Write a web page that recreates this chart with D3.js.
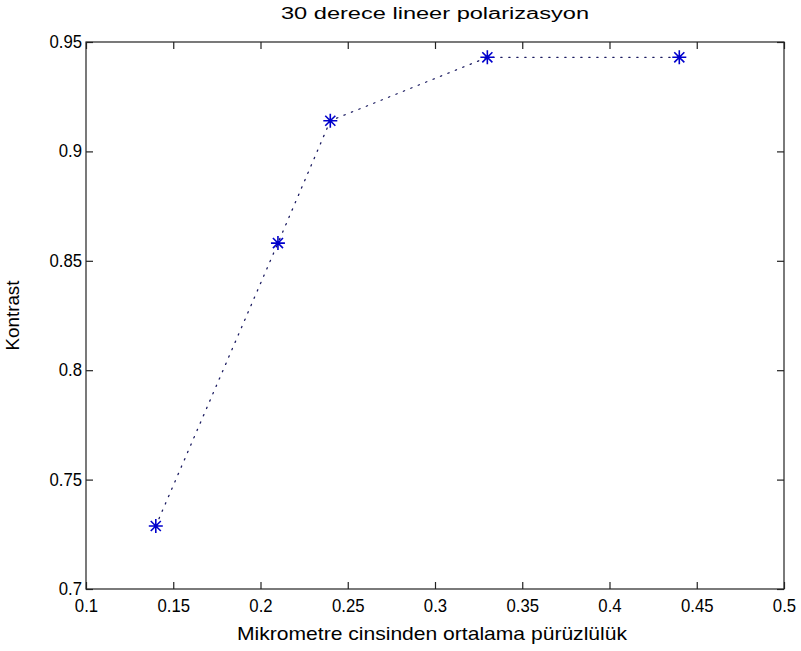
<!DOCTYPE html>
<html>
<head>
<meta charset="utf-8">
<script src="https://cdn.jsdelivr.net/npm/d3@7"></script>
<style>
html,body{margin:0;padding:0;background:#fff;}
svg{display:block;}
text{font-family:"Liberation Sans",Arial,sans-serif;fill:#000;}
</style>
</head>
<body>
<svg id="chart" width="801" height="651"></svg>
<script>
const roughness = [0.14, 0.21, 0.24, 0.33, 0.44];
const contrast = [0.7288, 0.8581, 0.9140, 0.9430, 0.9430];
const xTicks = [0.1, 0.15, 0.2, 0.25, 0.3, 0.35, 0.4, 0.45, 0.5];
const yTicks = [0.7, 0.75, 0.8, 0.85, 0.9, 0.95];
const xTickLabels = ["0.1","0.15","0.2","0.25","0.3","0.35","0.4","0.45","0.5"];
const yTickLabels = ["0.7","0.75","0.8","0.85","0.9","0.95"];
const titleText = "30 derece lineer polarizasyon";
const xLabel = "Mikrometre cinsinden ortalama pürüzlülük";
const yLabel = "Kontrast";

const svg = d3.select("#chart");
const L = 86, R = 784, T = 42, B = 589;
const x = d3.scaleLinear().domain([0.1, 0.5]).range([L, R]);
const y = d3.scaleLinear().domain([0.7, 0.95]).range([B, T]);
const tickLen = 7;
const axisColor = "#222";

svg.append("rect").attr("x", L).attr("y", T).attr("width", R - L).attr("height", B - T)
  .attr("fill", "none").attr("stroke", axisColor).attr("stroke-width", 1.2);

const xa = svg.append("g").attr("transform", `translate(0,${B})`)
  .call(d3.axisBottom(x).tickValues(xTicks).tickSizeInner(-tickLen).tickSizeOuter(0)
    .tickPadding(10).tickFormat((d, i) => xTickLabels[i]));
const xt = svg.append("g").attr("transform", `translate(0,${T})`)
  .call(d3.axisTop(x).tickValues(xTicks).tickSizeInner(-tickLen).tickSizeOuter(0).tickFormat(""));
const ya = svg.append("g").attr("transform", `translate(${L},0)`)
  .call(d3.axisLeft(y).tickValues(yTicks).tickSizeInner(-tickLen).tickSizeOuter(0)
    .tickPadding(4).tickFormat((d, i) => yTickLabels[i]));
const yr = svg.append("g").attr("transform", `translate(${R},0)`)
  .call(d3.axisRight(y).tickValues(yTicks).tickSizeInner(-tickLen).tickSizeOuter(0).tickFormat(""));

[xa, xt, ya, yr].forEach(g => {
  g.select(".domain").remove();
  g.selectAll(".tick line").attr("stroke", axisColor).attr("stroke-width", 1.2);
  g.selectAll(".tick text").attr("font-size", 18).attr("font-family", "Liberation Sans, Arial, sans-serif").attr("fill", "#111");
});
[xa, ya].forEach(g => {
  g.selectAll(".tick text").each(function () {
    const w = this.getComputedTextLength();
    d3.select(this).attr("textLength", w * 0.93).attr("lengthAdjust", "spacingAndGlyphs");
  });
});
ya.selectAll(".tick text").attr("dy", "0.3em");
xa.selectAll(".tick text").attr("dy", "0.71em");

const pts = roughness.map((r, i) => [r, contrast[i]]);
const line = d3.line().x(d => x(d[0])).y(d => y(d[1]));
svg.append("path").datum(pts).attr("d", line)
  .attr("fill", "none").attr("stroke", "#1a1a60").attr("stroke-width", 1.3)
  .attr("stroke-dasharray", "1.3,6.7").attr("stroke-linecap", "round");

const s = 7, sd = s * 0.72;
const starPath = `M${-s},0L${s},0M0,${-s}L0,${s}M${-sd},${-sd}L${sd},${sd}M${-sd},${sd}L${sd},${-sd}`;
svg.append("g").selectAll("path.star").data(pts).join("path")
  .attr("class", "star")
  .attr("transform", d => `translate(${x(d[0])},${y(d[1])})`)
  .attr("d", starPath)
  .attr("fill", "none").attr("stroke", "#0000cc").attr("stroke-width", 1.6);

svg.append("text").attr("x", 435).attr("y", 19).attr("text-anchor", "middle")
  .attr("font-size", 16).attr("textLength", 308).attr("lengthAdjust", "spacingAndGlyphs")
  .attr("fill", "#111").text(titleText);
svg.append("text").attr("x", 432).attr("y", 640).attr("text-anchor", "middle")
  .attr("font-size", 19).attr("textLength", 390).attr("lengthAdjust", "spacingAndGlyphs")
  .attr("fill", "#111").text(xLabel);
svg.append("text").attr("transform", `translate(19,${(T + B) / 2}) rotate(-90)`)
  .attr("text-anchor", "middle").attr("font-size", 19)
  .attr("textLength", 70).attr("lengthAdjust", "spacingAndGlyphs").attr("fill", "#111").text(yLabel);
</script>
</body>
</html>
